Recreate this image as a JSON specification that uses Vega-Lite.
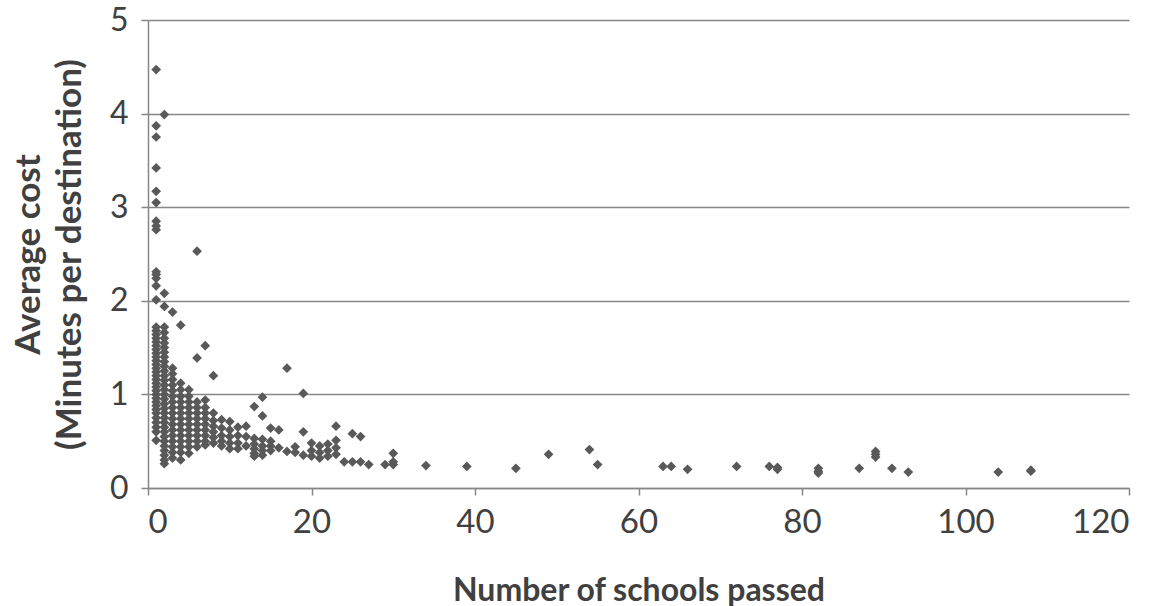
{
  "$schema": "https://vega.github.io/schema/vega-lite/v6.json",
  "width": 981,
  "height": 468,
  "autosize": {"type": "none"},
  "padding": {"left": 148, "top": 20, "right": 34, "bottom": 118},
  "background": "white",
  "config": {"view": {"stroke": null}, "font": "Lato"},
  "data": {"values": [
    {"x":1,"y":4.47},{"x":2,"y":3.99},{"x":1,"y":3.87},{"x":1,"y":3.75},{"x":1,"y":3.42},{"x":1,"y":3.17},{"x":1,"y":3.05},{"x":1,"y":2.85},{"x":1,"y":2.8},{"x":1,"y":2.76},{"x":6,"y":2.53},{"x":1,"y":2.31},{"x":1,"y":2.28},{"x":1,"y":2.24},{"x":1,"y":2.16},{"x":2,"y":2.08},{"x":1,"y":2.01},{"x":2,"y":1.94},{"x":3,"y":1.88},{"x":4,"y":1.74},{"x":7,"y":1.52},{"x":6,"y":1.39},{"x":8,"y":1.2},{"x":17,"y":1.28},{"x":19,"y":1.01},{"x":14,"y":0.97},{"x":13,"y":0.87},{"x":14,"y":0.77},{"x":15,"y":0.64},{"x":16,"y":0.62},{"x":19,"y":0.6},{"x":23,"y":0.66},{"x":25,"y":0.58},{"x":26,"y":0.55},{"x":30,"y":0.37},{"x":34,"y":0.24},
    {"x":13,"y":0.53},{"x":13,"y":0.47},{"x":13,"y":0.42},{"x":13,"y":0.37},{"x":13,"y":0.34},{"x":14,"y":0.52},{"x":14,"y":0.45},{"x":14,"y":0.4},{"x":14,"y":0.35},{"x":15,"y":0.5},{"x":15,"y":0.45},{"x":15,"y":0.4},{"x":16,"y":0.43},{"x":17,"y":0.39},{"x":18,"y":0.44},{"x":18,"y":0.38},{"x":19,"y":0.35},
    {"x":20,"y":0.48},{"x":20,"y":0.4},{"x":20,"y":0.34},{"x":21,"y":0.45},{"x":21,"y":0.38},{"x":21,"y":0.32},{"x":22,"y":0.47},{"x":22,"y":0.4},{"x":22,"y":0.34},{"x":23,"y":0.51},{"x":23,"y":0.43},{"x":23,"y":0.36},{"x":24,"y":0.28},{"x":25,"y":0.28},{"x":26,"y":0.28},{"x":27,"y":0.25},{"x":29,"y":0.25},{"x":30,"y":0.25},{"x":30,"y":0.28},
    {"x":39,"y":0.23},{"x":45,"y":0.21},{"x":49,"y":0.36},{"x":54,"y":0.41},{"x":55,"y":0.25},{"x":63,"y":0.23},{"x":64,"y":0.23},{"x":66,"y":0.2},{"x":72,"y":0.23},{"x":76,"y":0.23},{"x":77,"y":0.22},{"x":77,"y":0.2},{"x":82,"y":0.21},{"x":82,"y":0.18},{"x":82,"y":0.16},{"x":87,"y":0.21},{"x":89,"y":0.39},{"x":89,"y":0.36},{"x":89,"y":0.33},{"x":91,"y":0.21},{"x":93,"y":0.17},{"x":104,"y":0.17},{"x":108,"y":0.19},{"x":108,"y":0.18},
    {"x":1,"y":1.72},{"x":1,"y":1.68},{"x":1,"y":1.64},{"x":1,"y":1.6},{"x":1,"y":1.56},{"x":1,"y":1.52},{"x":1,"y":1.48},{"x":1,"y":1.44},{"x":1,"y":1.4},{"x":1,"y":1.36},{"x":1,"y":1.32},{"x":1,"y":1.28},{"x":1,"y":1.24},{"x":1,"y":1.2},{"x":1,"y":1.16},{"x":1,"y":1.12},{"x":1,"y":1.08},{"x":1,"y":1.04},{"x":1,"y":1.0},{"x":1,"y":0.96},{"x":1,"y":0.92},{"x":1,"y":0.88},{"x":1,"y":0.84},{"x":1,"y":0.8},{"x":1,"y":0.75},{"x":1,"y":0.7},{"x":1,"y":0.65},{"x":1,"y":0.6},{"x":1,"y":0.51},
    {"x":2,"y":1.72},{"x":2,"y":1.66},{"x":2,"y":1.6},{"x":2,"y":1.55},{"x":2,"y":1.5},{"x":2,"y":1.45},{"x":2,"y":1.4},{"x":2,"y":1.35},{"x":2,"y":1.3},{"x":2,"y":1.25},{"x":2,"y":1.2},{"x":2,"y":1.15},{"x":2,"y":1.1},{"x":2,"y":1.05},{"x":2,"y":1.0},{"x":2,"y":0.95},{"x":2,"y":0.9},{"x":2,"y":0.85},{"x":2,"y":0.8},{"x":2,"y":0.75},{"x":2,"y":0.7},{"x":2,"y":0.65},{"x":2,"y":0.6},{"x":2,"y":0.55},{"x":2,"y":0.5},{"x":2,"y":0.45},{"x":2,"y":0.4},{"x":2,"y":0.35},{"x":2,"y":0.3},{"x":2,"y":0.26},
    {"x":3,"y":1.28},{"x":3,"y":1.22},{"x":3,"y":1.16},{"x":3,"y":1.1},{"x":3,"y":1.04},{"x":3,"y":0.98},{"x":3,"y":0.92},{"x":3,"y":0.86},{"x":3,"y":0.8},{"x":3,"y":0.74},{"x":3,"y":0.68},{"x":3,"y":0.62},{"x":3,"y":0.56},{"x":3,"y":0.5},{"x":3,"y":0.44},{"x":3,"y":0.38},{"x":3,"y":0.32},
    {"x":4,"y":1.12},{"x":4,"y":1.05},{"x":4,"y":0.98},{"x":4,"y":0.92},{"x":4,"y":0.86},{"x":4,"y":0.8},{"x":4,"y":0.74},{"x":4,"y":0.68},{"x":4,"y":0.62},{"x":4,"y":0.56},{"x":4,"y":0.5},{"x":4,"y":0.44},{"x":4,"y":0.38},{"x":4,"y":0.3},
    {"x":5,"y":1.05},{"x":5,"y":0.98},{"x":5,"y":0.92},{"x":5,"y":0.86},{"x":5,"y":0.8},{"x":5,"y":0.74},{"x":5,"y":0.68},{"x":5,"y":0.62},{"x":5,"y":0.56},{"x":5,"y":0.5},{"x":5,"y":0.44},{"x":5,"y":0.37},
    {"x":6,"y":0.92},{"x":6,"y":0.86},{"x":6,"y":0.8},{"x":6,"y":0.74},{"x":6,"y":0.68},{"x":6,"y":0.62},{"x":6,"y":0.56},{"x":6,"y":0.5},{"x":6,"y":0.44},
    {"x":7,"y":0.94},{"x":7,"y":0.86},{"x":7,"y":0.8},{"x":7,"y":0.74},{"x":7,"y":0.68},{"x":7,"y":0.62},{"x":7,"y":0.56},{"x":7,"y":0.5},{"x":7,"y":0.46},
    {"x":8,"y":0.8},{"x":8,"y":0.72},{"x":8,"y":0.66},{"x":8,"y":0.6},{"x":8,"y":0.54},{"x":8,"y":0.48},
    {"x":9,"y":0.73},{"x":9,"y":0.64},{"x":9,"y":0.56},{"x":9,"y":0.5},{"x":9,"y":0.45},
    {"x":10,"y":0.71},{"x":10,"y":0.62},{"x":10,"y":0.55},{"x":10,"y":0.48},{"x":10,"y":0.42},
    {"x":11,"y":0.65},{"x":11,"y":0.56},{"x":11,"y":0.48},{"x":11,"y":0.42},
    {"x":12,"y":0.66},{"x":12,"y":0.55},{"x":12,"y":0.45}
  ]},
  "mark": {"type": "point", "shape": "diamond", "filled": true, "size": 95, "color": "#595959", "opacity": 1},
  "encoding": {
    "x": {
      "field": "x", "type": "quantitative",
      "scale": {"domain": [0, 120], "nice": false, "zero": true},
      "axis": {
        "title": "Number of schools passed",
        "values": [0, 20, 40, 60, 80, 100, 120],
        "grid": false,
        "domainColor": "#868686", "domainWidth": 1.5,
        "tickColor": "#868686", "tickWidth": 1.5, "tickSize": 7,
        "labelFontSize": 33, "labelColor": "#404040", "labelPadding": 11, "labelFont": "Lato",
        "titleFontSize": 32, "titleFontWeight": "bold", "titleColor": "#404040", "titlePadding": 36, "titleFont": "Lato"
      }
    },
    "y": {
      "field": "y", "type": "quantitative",
      "scale": {"domain": [0, 5], "nice": false},
      "axis": {
        "title": ["Average cost", "(Minutes per destination)"],
        "values": [0, 1, 2, 3, 4, 5],
        "grid": true, "gridColor": "#868686", "gridWidth": 1.5,
        "domainColor": "#868686", "domainWidth": 1.5,
        "tickColor": "#868686", "tickWidth": 1.5, "tickSize": 7,
        "labelFontSize": 32, "labelColor": "#404040", "labelPadding": 13, "labelFont": "Lato",
        "titleFontSize": 35, "titleFontWeight": "bold", "titleColor": "#404040", "titlePadding": 22, "titleFont": "Lato", "titleLineHeight": 41
      }
    }
  }
}
